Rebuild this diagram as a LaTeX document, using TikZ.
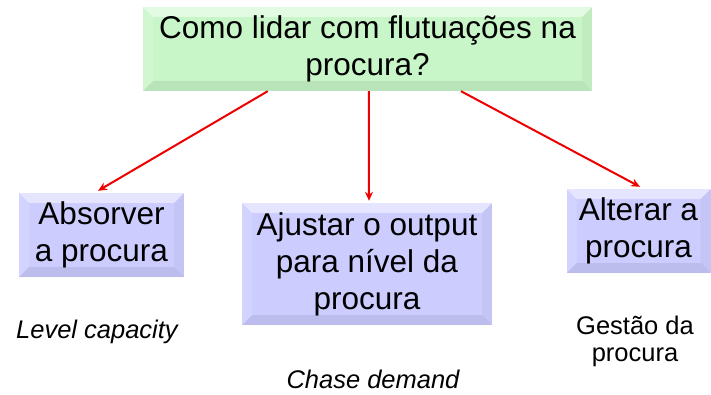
\documentclass[tikz,border=0pt]{standalone}
\usepackage{fontspec}
\setmainfont{Liberation Sans}
\usetikzlibrary{arrows.meta,calc}
\definecolor{topgreen}{RGB}{200,246,200}
\definecolor{boxblue}{RGB}{204,204,255}
\definecolor{arrowred}{RGB}{238,0,0}
\tikzset{
  bevelbox/.style={inner sep=0pt, align=center, font=\fontsize{31.5}{37}\selectfont,
    path picture={
      \def\bw{10pt}
      \coordinate (nw) at (path picture bounding box.north west);
      \coordinate (ne) at (path picture bounding box.north east);
      \coordinate (sw) at (path picture bounding box.south west);
      \coordinate (se) at (path picture bounding box.south east);
      \coordinate (inw) at ([shift={(\bw,-\bw)}]nw);
      \coordinate (ine) at ([shift={(-\bw,-\bw)}]ne);
      \coordinate (isw) at ([shift={(\bw,\bw)}]sw);
      \coordinate (ise) at ([shift={(-\bw,\bw)}]se);
      \fill[white,opacity=0.5] (nw) -- (ne) -- (ine) -- (inw) -- cycle;
      \fill[white,opacity=0.15] (nw) -- (inw) -- (isw) -- (sw) -- cycle;
      \fill[black,opacity=0.04] (ne) -- (se) -- (ise) -- (ine) -- cycle;
      \fill[black,opacity=0.07] (sw) -- (isw) -- (ise) -- (se) -- cycle;
    }},
  topbox/.style={bevelbox, fill=topgreen},
  subbox/.style={bevelbox, fill=boxblue},
  conn/.style={draw=arrowred, line width=2pt, -{Stealth[length=9pt,width=8pt]}},
  note/.style={font=\fontsize{25.5}{27}\selectfont, align=center}
}
\begin{document}
\begin{tikzpicture}[x=1pt,y=-1pt]
  \useasboundingbox (0,0) rectangle (711,395);
  \node[topbox, minimum width=449pt, minimum height=84pt] (top) at (367.5,49) {Como lidar com flutuações na\\procura?};
  \node[subbox, minimum width=165pt, minimum height=84pt] (absorb) at (101.5,235) {Absorver\\a procura};
  \node[subbox, minimum width=250pt, minimum height=122pt] (adjust) at (367,264) {Ajustar o output\\para nível da\\procura};
  \node[subbox, minimum width=144pt, minimum height=84pt] (alter) at (638.5,231) {Alterar a\\procura};
  \coordinate (s1) at ($(top.south west)!0.278!(top.south east)$);
  \coordinate (s2) at ($(top.south west)!0.503!(top.south east)$);
  \coordinate (s3) at ($(top.south west)!0.708!(top.south east)$);
  \coordinate (e1) at ($(absorb.north)+(-3.5,-2)$);
  \coordinate (e2) at ($(adjust.north)+(2,-2)$);
  \coordinate (e3) at ($(alter.north)+(1.5,-2)$);
  \draw[conn] (s1) -- (e1);
  \draw[conn] (s2) -- (e2);
  \draw[conn] (s3) -- (e3);
  \node[note, font=\fontsize{25.5}{27}\selectfont\itshape] (lvl) at (97,332) {Level capacity};
  \node[note, font=\fontsize{25.5}{27}\selectfont\itshape] (chase) at (373,379) {Chase demand};
  \node[note] (gest) at (635,341) {Gestão da\\procura};
\end{tikzpicture}
\end{document}
